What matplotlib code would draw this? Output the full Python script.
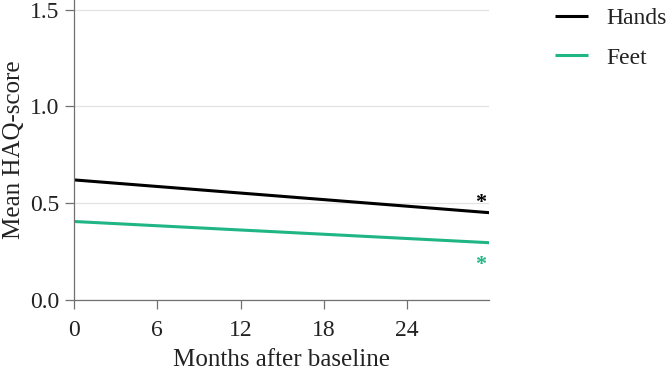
import matplotlib
matplotlib.use("Agg")
import matplotlib.pyplot as plt

months = [0, 30]
hands = [0.62, 0.45]
feet = [0.405, 0.295]
series_names = ["Hands", "Feet"]
star_x = [29.3, 29.3]
star_y = [0.50, 0.18]
x_ticks = [0, 6, 12, 18, 24]
y_ticks = [0.0, 0.5, 1.0, 1.5]

plt.rcParams['font.family'] = ['Liberation Serif', 'DejaVu Serif']

fig = plt.figure(figsize=(6.72, 3.72), dpi=100)
ax = fig.add_axes([0.110, 0.194, 0.618, 0.806])

colors = ["#000000", "#1fb584"]
ax.plot(months, hands, color=colors[0], lw=2.2, label=series_names[0], solid_capstyle='butt')
ax.plot(months, feet, color=colors[1], lw=2.2, label=series_names[1], solid_capstyle='butt')
for xs, ys, c in zip(star_x, star_y, colors):
    ax.text(xs, ys, "*", color=c, fontsize=16, ha='center', va='center', fontweight='bold')

ax.set_xlim(0, 29.9)
ax.set_ylim(0, 1.55)
ax.set_xticks(x_ticks)
ax.set_yticks(y_ticks)
ax.set_yticklabels([f"{v:.1f}" for v in y_ticks])
ax.yaxis.grid(True, color="#e3e3e3", lw=0.9)
ax.set_axisbelow(True)
for s in ["top", "right"]:
    ax.spines[s].set_visible(False)
for s in ["left", "bottom"]:
    ax.spines[s].set_color("#707070")
    ax.spines[s].set_linewidth(0.9)
ax.tick_params(axis='both', colors="#707070", labelcolor="#222222", labelsize=17, length=6.5, width=0.9)
ax.tick_params(axis='x', pad=8)
ax.tick_params(axis='y', pad=4)
ax.set_xlabel("Months after baseline", fontsize=18, color="#222222")
ax.set_ylabel("Mean HAQ-score", fontsize=18, color="#222222")
ax.yaxis.set_label_coords(-0.118, 0.5)
ax.xaxis.set_label_coords(0.5, -0.165)

leg = ax.legend(loc='upper left', bbox_to_anchor=(1.108, 1.045), frameon=False, fontsize=17,
                handlelength=1.4, handletextpad=0.75, labelspacing=0.75)
for t in leg.get_texts():
    t.set_color("#222222")

fig.savefig("out.png", dpi=100)
